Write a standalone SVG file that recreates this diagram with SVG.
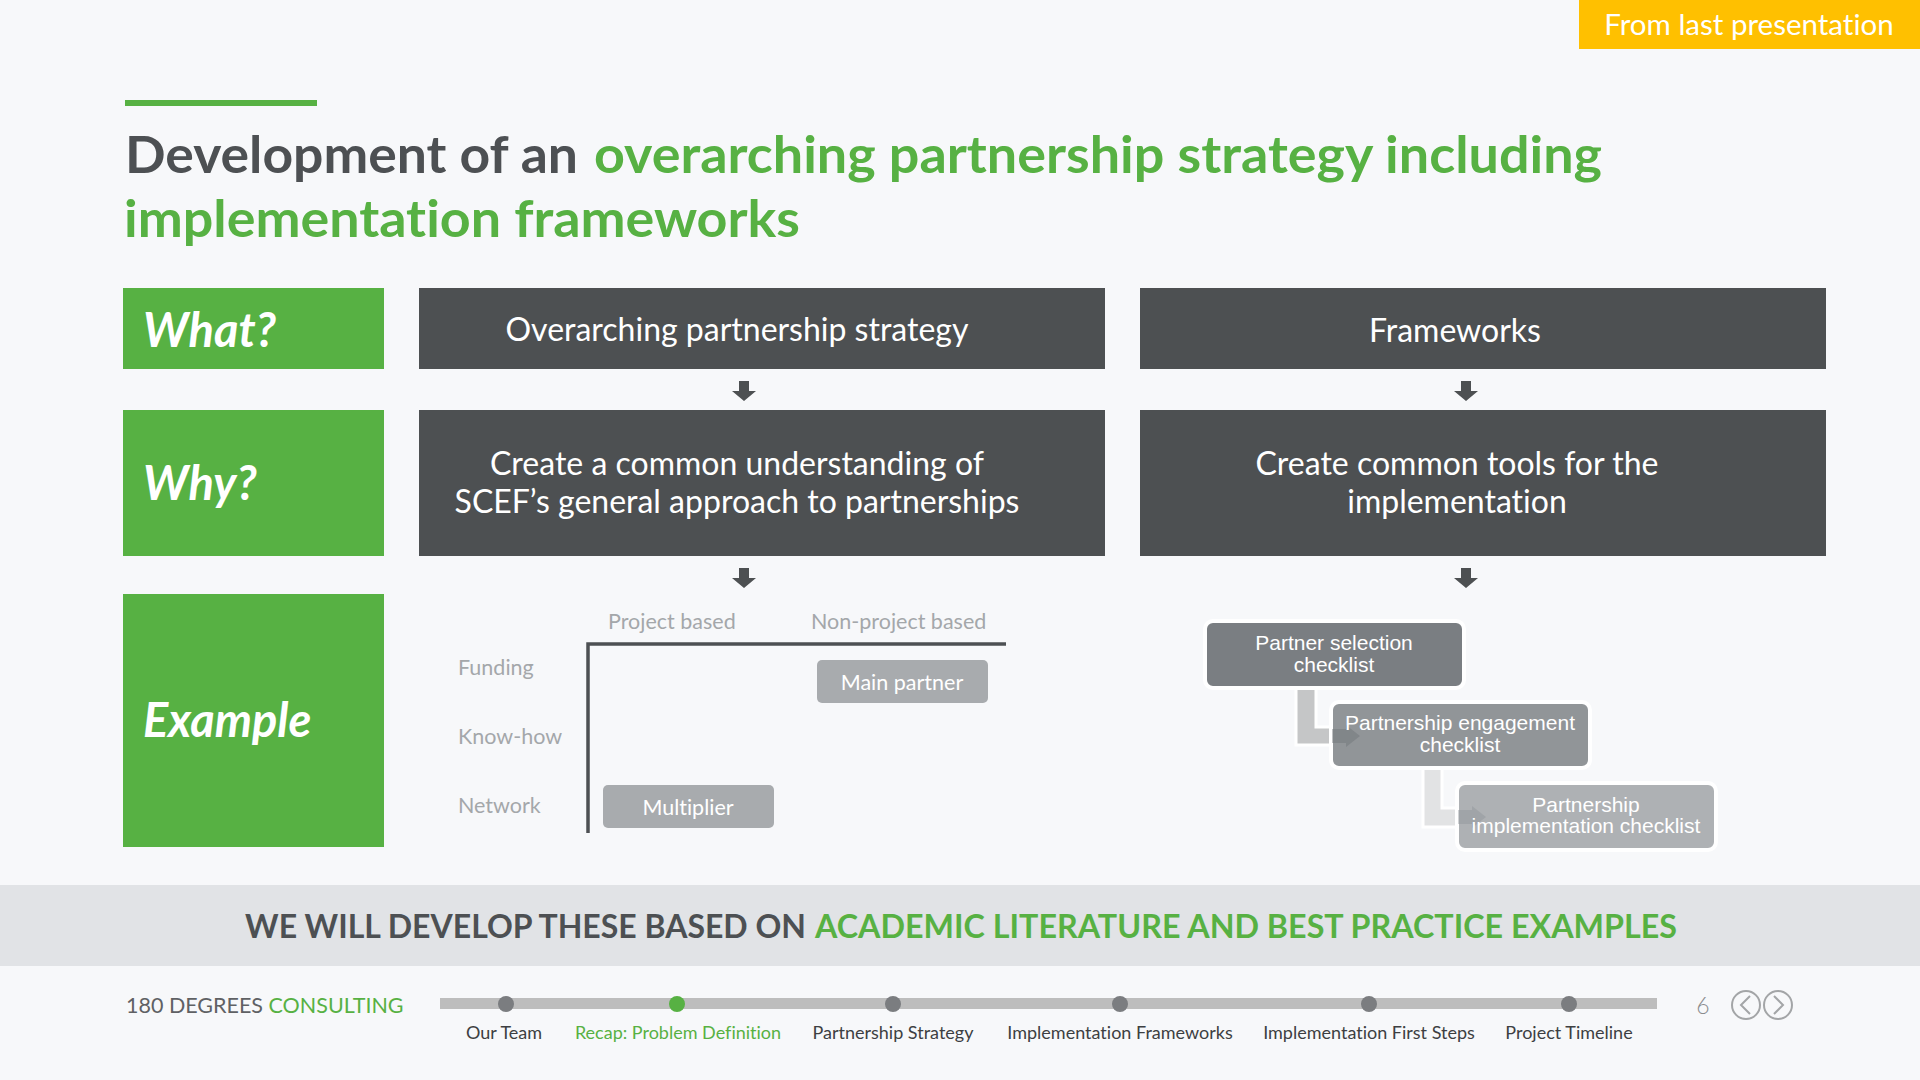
<svg xmlns="http://www.w3.org/2000/svg" width="1920" height="1080" viewBox="0 0 1920 1080">
<defs>
<style>
text{font-variant-ligatures:none}
.lato{font-family:Lato,"Liberation Sans",sans-serif}
.dark{fill:#4d5053}
.green{fill:#57b143}
.box{fill:#4d5052}
.gbox{fill:#57b143}
.wt{fill:#ffffff;font-family:Lato,"Liberation Sans",sans-serif;font-size:32px;text-anchor:middle}
.lbl{fill:#ffffff;font-family:Lato,"Liberation Sans",sans-serif;font-size:47px;font-weight:700;font-style:italic}
.mx{fill:#a4a7aa;font-family:Lato,"Liberation Sans",sans-serif;font-size:21.5px}
.pill{fill:#a8abae}
.pt{fill:#ffffff;font-family:Lato,"Liberation Sans",sans-serif;font-size:21.5px;text-anchor:middle}
.ck{fill:#ffffff;font-family:"Liberation Sans",Arial,sans-serif;font-size:21px;text-anchor:middle}
.ckbox{stroke:#ffffff;stroke-width:4}
.tl{font-family:Lato,"Liberation Sans",sans-serif;font-size:18px;text-anchor:middle;fill:#3d3f42}
.dot{fill:#7b7d80}
</style>
<g id="darr"><path d="M-5,0 H5 V10 H12 L0,20 L-12,10 H-5 Z" fill="#4d5052"/></g>
</defs>
<rect width="1920" height="1080" fill="#f7f8fa"/>

<g id="badge">
<rect x="1579" y="0" width="341" height="49" fill="#ffc000"/>
<text x="1749" y="35" class="lato" font-size="29.5" fill="#ffffff" text-anchor="middle">From last presentation</text>
</g>

<g id="title">
<rect x="125" y="100" width="192" height="6" class="green"/>
<text x="125" y="173" class="lato dark" font-size="52" font-weight="700" textLength="453" lengthAdjust="spacingAndGlyphs">Development of an</text>
<text x="594" y="173" class="lato green" font-size="52" font-weight="700" textLength="1008" lengthAdjust="spacingAndGlyphs">overarching partnership strategy including</text>
<text x="124" y="237" class="lato green" font-size="52" font-weight="700" textLength="676" lengthAdjust="spacingAndGlyphs">implementation frameworks</text>
</g>

<g id="what">
<rect x="123" y="288" width="261" height="81" class="gbox"/>
<text x="143" y="347" class="lbl">What?</text>
</g>
<g id="why">
<rect x="123" y="410" width="261" height="146" class="gbox"/>
<text x="143" y="500" class="lbl">Why?</text>
</g>
<g id="example">
<rect x="123" y="594" width="261" height="253" class="gbox"/>
<text x="143" y="737" class="lbl">Example</text>
</g>

<g id="strategy">
<rect x="419" y="288" width="686" height="81" class="box"/>
<text x="737" y="341" class="wt">Overarching partnership strategy</text>
</g>
<g id="frameworks">
<rect x="1140" y="288" width="686" height="81" class="box"/>
<text x="1455" y="342" class="wt">Frameworks</text>
</g>
<g id="why-strategy">
<rect x="419" y="410" width="686" height="146" class="box"/>
<text x="737" y="475" class="wt">Create a common understanding of</text>
<text x="737" y="513" class="wt">SCEF’s general approach to partnerships</text>
</g>
<g id="why-frameworks">
<rect x="1140" y="410" width="686" height="146" class="box"/>
<text x="1457" y="475" class="wt">Create common tools for the</text>
<text x="1457" y="513" class="wt">implementation</text>
</g>

<g id="connectors">
<use href="#darr" x="744" y="381"/>
<use href="#darr" x="1466" y="381"/>
<use href="#darr" x="744" y="568"/>
<use href="#darr" x="1466" y="568"/>
<path d="M1296,688 V745 H1340 V727 H1316 V688 Z" fill="#c5c6c7" stroke="#ffffff" stroke-width="3"/>
<path d="M1423,768 V827 H1465 V808 H1442 V768 Z" fill="#e2e3e4" stroke="#ffffff" stroke-width="3"/>
</g>

<g id="matrix">
<text x="608" y="629" class="mx">Project based</text>
<text x="811" y="629" class="mx">Non-project based</text>
<text x="458" y="675" class="mx">Funding</text>
<text x="458" y="744" class="mx">Know-how</text>
<text x="458" y="813" class="mx">Network</text>
<path d="M588,833 V644 H1006" fill="none" stroke="#4d5053" stroke-width="3.5"/>
</g>
<g id="main-partner">
<rect x="817" y="660" width="171" height="43" rx="5" class="pill"/>
<text x="902" y="690" class="pt">Main partner</text>
</g>
<g id="multiplier">
<rect x="603" y="785" width="171" height="43" rx="5" class="pill"/>
<text x="688" y="815" class="pt">Multiplier</text>
</g>

<g id="partner-selection">
<rect x="1205" y="621" width="259" height="67" rx="8" fill="#7a7e82" class="ckbox"/>
<text x="1334" y="650" class="ck">Partner selection</text>
<text x="1334" y="672" class="ck">checklist</text>
</g>
<g id="partnership-engagement">
<rect x="1331" y="702" width="259" height="66" rx="8" fill="#919598" class="ckbox"/>
<path d="M1332,729 H1346 V725 L1360,736 L1346,747 V743 H1332 Z" fill="#6f7377" opacity="0.45"/>
<text x="1460" y="730" class="ck">Partnership engagement</text>
<text x="1460" y="752" class="ck">checklist</text>
</g>
<g id="partnership-implementation">
<rect x="1457" y="783" width="259" height="67" rx="8" fill="#aeb1b4" class="ckbox"/>
<path d="M1458,810 H1472 V806 L1486,817 L1472,828 V824 H1458 Z" fill="#8d9195" opacity="0.4"/>
<text x="1586" y="812" class="ck">Partnership</text>
<text x="1586" y="833" class="ck">implementation checklist</text>
</g>

<g id="banner">
<rect x="0" y="885" width="1920" height="81" fill="#e1e3e6"/>
<text x="245" y="938" class="lato dark" font-size="32" font-weight="700" textLength="561" lengthAdjust="spacingAndGlyphs">WE WILL DEVELOP THESE BASED ON</text>
<text x="815" y="938" class="lato green" font-size="32" font-weight="700" textLength="862" lengthAdjust="spacingAndGlyphs">ACADEMIC LITERATURE AND BEST PRACTICE EXAMPLES</text>
</g>

<g id="footer">
<text x="126" y="1013" class="lato" font-size="21.5" fill="#5f6164">180 DEGREES <tspan class="green">CONSULTING</tspan></text>
<rect x="440" y="998" width="1217" height="11" fill="#bdbdbd"/>
<circle cx="506" cy="1004" r="8" class="dot"/>
<circle cx="677" cy="1004" r="8" fill="#57b143"/>
<circle cx="893" cy="1004" r="8" class="dot"/>
<circle cx="1120" cy="1004" r="8" class="dot"/>
<circle cx="1369" cy="1004" r="8" class="dot"/>
<circle cx="1569" cy="1004" r="8" class="dot"/>
<text x="504" y="1039" class="tl">Our Team</text>
<text x="678" y="1039" class="tl" style="fill:#57b143">Recap: Problem Definition</text>
<text x="893" y="1039" class="tl">Partnership Strategy</text>
<text x="1120" y="1039" class="tl">Implementation Frameworks</text>
<text x="1369" y="1039" class="tl">Implementation First Steps</text>
<text x="1569" y="1039" class="tl">Project Timeline</text>
<text x="1703" y="1014" class="lato" font-size="23" font-weight="300" fill="#8a8c8e" text-anchor="middle">6</text>
<circle cx="1746" cy="1005" r="14" fill="none" stroke="#a3a5a7" stroke-width="2"/>
<circle cx="1778" cy="1005" r="14" fill="none" stroke="#a3a5a7" stroke-width="2"/>
<polyline points="1750,996 1741,1005 1750,1014" fill="none" stroke="#a3a5a7" stroke-width="2"/>
<polyline points="1774,996 1783,1005 1774,1014" fill="none" stroke="#a3a5a7" stroke-width="2"/>
</g>
</svg>
